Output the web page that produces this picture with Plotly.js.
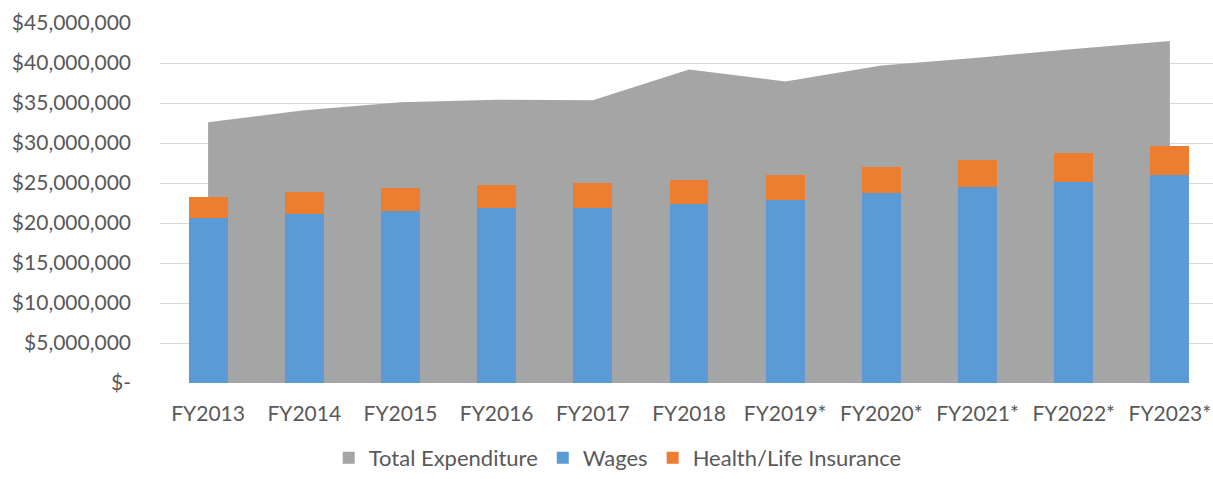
<!DOCTYPE html>
<html>
<head>
<meta charset="utf-8">
<script src="https://cdn.plot.ly/plotly-3.0.1.min.js"></script>
<style>html,body{margin:0;padding:0;background:#fff;}#chart{width:1213px;height:479px;}</style>
</head>
<body>
<div id="chart"></div>
<script>
const categories = ["FY2013","FY2014","FY2015","FY2016","FY2017","FY2018","FY2019*","FY2020*","FY2021*","FY2022*","FY2023*"];
const totalExpenditure = [32600000,34100000,35100000,35400000,35350000,39200000,37700000,39700000,40650000,41750000,42750000];
const wages = [20670000,21130000,21550000,21920000,21880000,22420000,22880000,23750000,24460000,25170000,25960000];
const healthLife = [2630000,2800000,2790000,2790000,3080000,3000000,3080000,3210000,3380000,3540000,3670000];
const yTickVals = [0,5000000,10000000,15000000,20000000,25000000,30000000,35000000,40000000,45000000];
const yTickText = ["$-","$5,000,000","$10,000,000","$15,000,000","$20,000,000","$25,000,000","$30,000,000","$35,000,000","$40,000,000","$45,000,000"];

const font = {family: "Lato, 'Open Sans', sans-serif", size: 21, color: "#595959"};
const traces = [
  {type:"scatter", mode:"lines", name:"Total Expenditure", x:categories, y:totalExpenditure, showlegend:false,
   fill:"tozeroy", fillcolor:"#A5A5A5", line:{color:"#A5A5A5", width:0}, xaxis:"x", yaxis:"y", hoverinfo:"skip"},
  {type:"bar", name:"Total Expenditure", x:[null], y:[null], marker:{color:"#A5A5A5"}, xaxis:"x", yaxis:"y", showlegend:true},
  {type:"bar", name:"Wages", x:categories, y:wages, marker:{color:"#5B9BD5", line:{width:0}},
   width:0.405, xaxis:"x2", yaxis:"y2"},
  {type:"bar", name:"Health/Life Insurance", x:categories, y:healthLife, marker:{color:"#ED7D31", line:{width:0}},
   width:0.405, xaxis:"x2", yaxis:"y2"}
];
const xr = [-0.5, 10.448];
const yr = [0, 45000000];
const layout = {
  width:1213, height:479,
  margin:{l:160, r:0, t:23, b:96},
  paper_bgcolor:"#fff", plot_bgcolor:"#fff",
  font: font,
  barmode:"stack",
  showlegend:true,
  legend:{orientation:"h", xref:"container", x:0.271, xanchor:"left", yref:"container", y:-0.016, yanchor:"bottom", traceorder:"normal",
          font:{family:font.family, size:22, color:"#595959"}, itemwidth:30},
  xaxis:{type:"category", categoryorder:"array", categoryarray:categories, range:xr,
         showgrid:false, zeroline:false, showline:false, ticks:"", tickfont:font, ticklabelstandoff:16},
  yaxis:{range:yr, tickvals:yTickVals, ticktext:yTickText, showgrid:true, gridcolor:"#D9D9D9", gridwidth:1,
         zeroline:false, showline:false, ticks:"", tickfont:font, ticklabelstandoff:28},
  xaxis2:{type:"category", categoryorder:"array", categoryarray:categories, range:xr, overlaying:"x", visible:false},
  yaxis2:{range:yr, overlaying:"y", visible:false}
};
Plotly.newPlot("chart", traces, layout, {displayModeBar:false, staticPlot:true});
</script>
</body>
</html>
